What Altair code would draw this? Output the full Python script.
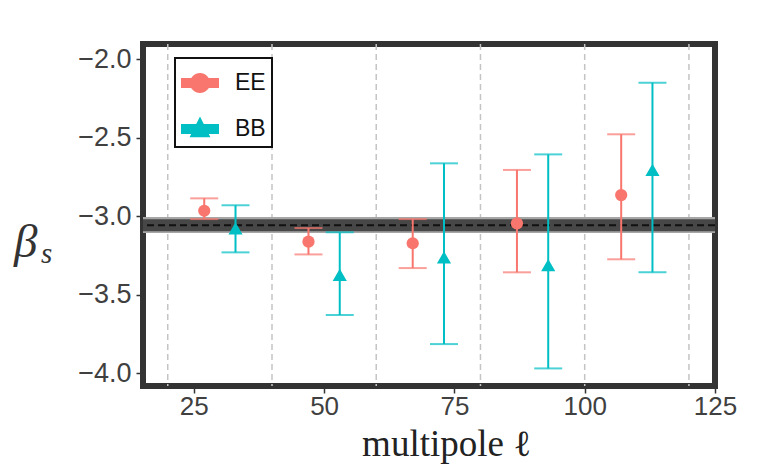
import altair as alt
import pandas as pd

# ---------------- data ----------------
series_names = ["EE", "BB"]
series_colors = ["#F8766D", "#00BFC4"]

ell_EE = [27, 47, 67, 87, 107]
beta_EE = [-2.965, -3.162, -3.172, -3.045, -2.865]
lo_EE = [-3.018, -3.243, -3.330, -3.357, -3.274]
hi_EE = [-2.886, -3.075, -3.018, -2.705, -2.478]

ell_BB = [33, 53, 73, 93, 113]
beta_BB = [-3.077, -3.374, -3.262, -3.311, -2.705]
lo_BB = [-3.230, -3.629, -3.814, -3.969, -3.357]
hi_BB = [-2.930, -3.102, -2.663, -2.606, -2.149]

beta_fid = [-3.057]
band_inner = [-3.095, -3.019]
band_outer = [-3.107, -3.005]

grid_ell = [20, 40, 60, 80, 100, 120]
x_ticks = [25, 50, 75, 100, 125]
y_ticks = [-2.0, -2.5, -3.0, -3.5, -4.0]
x_domain = [15.25, 125]
y_domain = [-4.081, -1.903]

# ---------------- tables ----------------
df = pd.DataFrame({
    "series": ["EE"] * len(ell_EE) + ["BB"] * len(ell_BB),
    "ell": ell_EE + ell_BB,
    "beta": beta_EE + beta_BB,
    "lo": lo_EE + lo_BB,
    "hi": hi_EE + hi_BB,
})
fid_df = pd.DataFrame({"beta": beta_fid})
band_df = pd.DataFrame({
    "y1": [band_outer[0], band_inner[0]],
    "y2": [band_outer[1], band_inner[1]],
    "kind": ["outer", "inner"],
})
grid_df = pd.DataFrame({"ell": grid_ell})

xscale = alt.Scale(domain=x_domain, nice=False, zero=False)
yscale = alt.Scale(domain=y_domain, nice=False, zero=False)

xaxis = alt.Axis(
    values=x_ticks, title="multipole ℓ", grid=False, domain=False,
    tickSize=7, tickWidth=1.5, tickColor="#333333",
    labelFont="Liberation Sans", labelFontSize=26, labelColor="#404040",
    labelPadding=0, labelFlush=False, labelOverlap=False,
    titleFont="Liberation Serif", titleFontSize=37, titleFontWeight="normal",
    titleColor="#222222", titleX=303, titleY=69, titleAlign="center",
    titleBaseline="alphabetic",
)
yaxis = alt.Axis(
    values=y_ticks, format=".1f", title=None, grid=False, domain=False,
    tickSize=7, tickWidth=1.5, tickColor="#333333",
    labelFont="Liberation Sans", labelFontSize=27, labelColor="#404040",
    labelPadding=5, labelFlush=False, labelOverlap=False,
)

X = alt.X("ell:Q", scale=xscale, axis=xaxis)
Y = alt.Y("beta:Q", scale=yscale, axis=yaxis)
colorscale = alt.Scale(domain=series_names, range=series_colors)

# grid lines
grid = alt.Chart(grid_df).mark_rule(
    color="#c4c4c4", strokeWidth=1.5, strokeDash=[6, 4]
).encode(x=alt.X("ell:Q", scale=xscale, axis=xaxis))

# fiducial band
band = alt.Chart(band_df).mark_rect().encode(
    y=alt.Y("y1:Q", scale=yscale, axis=yaxis),
    y2="y2:Q",
    color=alt.Color("kind:N", scale=alt.Scale(domain=["outer", "inner"],
                                             range=["#a6a6a6", "#474747"]),
                    legend=None),
)
fid = alt.Chart(fid_df).mark_rule(
    color="#111111", strokeWidth=2, strokeDash=[7, 4]
).encode(y=alt.Y("beta:Q", scale=yscale, axis=yaxis))

# error bars
bars = alt.Chart(df).mark_rule(strokeWidth=2).encode(
    x=X,
    y=alt.Y("lo:Q", scale=yscale, axis=yaxis),
    y2="hi:Q",
    color=alt.Color("series:N", scale=colorscale, legend=None),
)
cap_lo = alt.Chart(df).mark_tick(orient="horizontal", size=28, thickness=2).encode(
    x=X,
    y=alt.Y("lo:Q", scale=yscale, axis=yaxis),
    color=alt.Color("series:N", scale=colorscale, legend=None),
)
cap_hi = alt.Chart(df).mark_tick(orient="horizontal", size=28, thickness=2).encode(
    x=X,
    y=alt.Y("hi:Q", scale=yscale, axis=yaxis),
    color=alt.Color("series:N", scale=colorscale, legend=None),
)

pts_EE = alt.Chart(df).transform_filter(alt.datum.series == "EE").mark_point(
    filled=True, shape="circle", size=150, opacity=1
).encode(x=X, y=Y, color=alt.Color("series:N", scale=colorscale, legend=None))
pts_BB = alt.Chart(df).transform_filter(alt.datum.series == "BB").mark_point(
    filled=True, shape="triangle-up", size=200, opacity=1
).encode(x=X, y=Y, color=alt.Color("series:N", scale=colorscale, legend=None))

# legend (errorbar-like handles)
path_EE = ("M-1,-0.26H1V0.26H-1Z "
           "M-0.53,0A0.53,0.53,0,1,1,0.53,0A0.53,0.53,0,1,1,-0.53,0Z")
path_BB = "M-1,-0.26H1V0.26H-1Z M0,-0.66L0.55,0.44L-0.55,0.44Z"
leg = alt.Legend(
    title=None, orient="none", legendX=32, legendY=14,
    symbolSize=1444, symbolStrokeWidth=0, symbolOpacity=1,
    labelFont="Liberation Sans", labelFontSize=23, labelColor="#111111",
    labelOffset=16, padding=6, rowPadding=15,
    strokeColor="#111111", fillColor="#ffffff", cornerRadius=0,
)
legend_layer = alt.Chart(df).transform_filter("false").mark_point(
    filled=True, opacity=1
).encode(
    x=X, y=Y,
    color=alt.Color("series:N", scale=colorscale, legend=leg),
    shape=alt.Shape("series:N", scale=alt.Scale(domain=series_names,
                                                range=[path_EE, path_BB]),
                    legend=leg),
)

# y-axis label beta_s
beta_lbl = alt.Chart(pd.DataFrame({"t": ["β"]})).mark_text(
    font="Liberation Serif", fontStyle="italic", fontSize=47, align="left",
    baseline="alphabetic", color="#333333"
).encode(x=alt.value(-129), y=alt.value(213), text="t:N")
sub_lbl = alt.Chart(pd.DataFrame({"t": ["s"]})).mark_text(
    font="Liberation Serif", fontStyle="italic", fontSize=29, align="left",
    baseline="alphabetic", color="#333333"
).encode(x=alt.value(-102), y=alt.value(219), text="t:N")

chart = alt.layer(
    grid, band, fid, bars, cap_lo, cap_hi, pts_EE, pts_BB, legend_layer,
    beta_lbl, sub_lbl
).resolve_scale(
    color="independent", shape="independent"
).properties(
    width=572, height=342,
    autosize=alt.AutoSizeParams(type="none"),
    padding={"left": 143, "top": 44, "right": 57, "bottom": 87},
    background="white",
).configure_view(
    stroke="#333333", strokeWidth=6
).configure_legend(
    strokeWidth=2
)

chart.save("out.html", embed_options={"renderer": "svg", "actions": False})
